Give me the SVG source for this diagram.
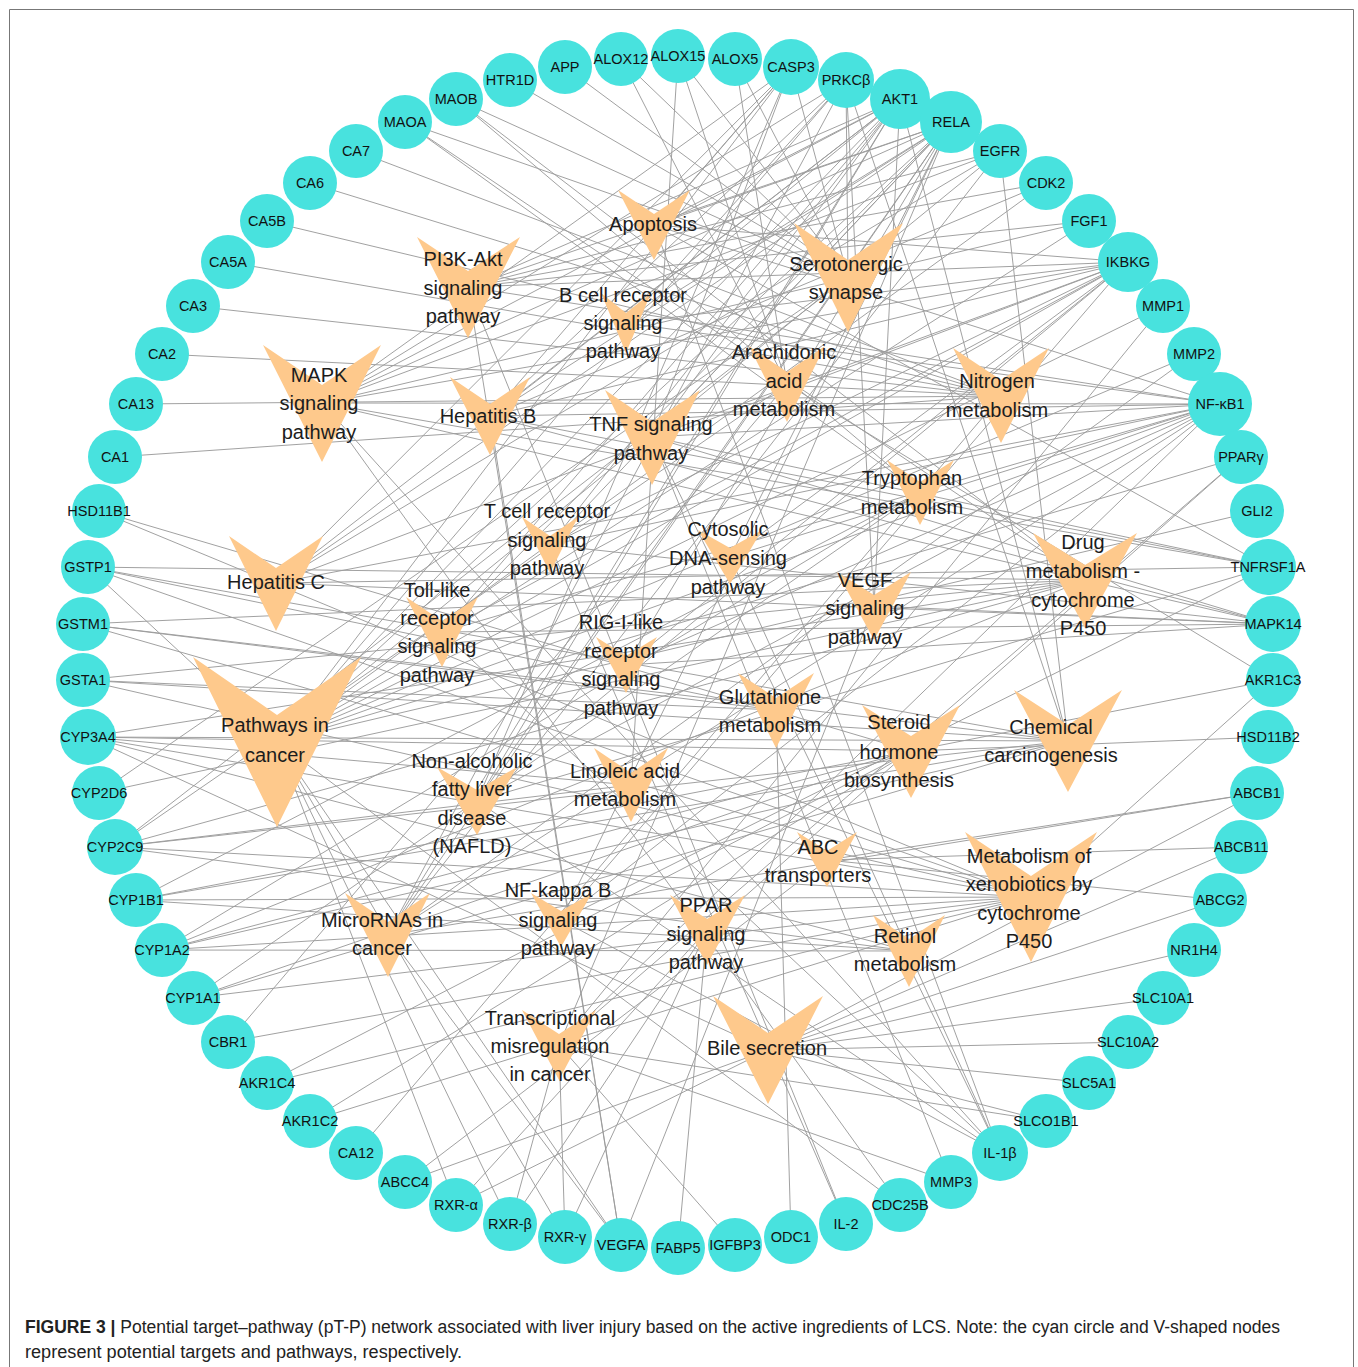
<svg xmlns="http://www.w3.org/2000/svg" width="1358" height="1367" viewBox="0 0 1358 1367">
<style>
.bg{fill:#fff}
.frame{fill:none;stroke:#777;stroke-width:1}
#edges line{stroke:#9c9c9c;stroke-width:0.95}
.t circle{fill:#48E2DE}
.t text{font-family:"Liberation Sans",Arial,sans-serif;font-size:14.5px;fill:#111;text-anchor:middle}
.p polygon{fill:#FEC98C}
.p text{font-family:"Liberation Sans",Arial,sans-serif;font-size:20px;fill:#1c1c1c;text-anchor:middle}
.cap{font-family:"Liberation Sans",Arial,sans-serif;font-size:18px;fill:#222}
</style>
<rect class="bg" x="0" y="0" width="1358" height="1367"/>
<path class="frame" d="M9.5,1367 V9.5 H1353.5 V1367"/>
<g id="edges">
<line x1="678" y1="56" x2="787" y2="384"/><line x1="678" y1="56" x2="631" y2="785"/><line x1="678" y1="56" x2="848" y2="277"/>
<line x1="735" y1="59" x2="787" y2="384"/><line x1="735" y1="59" x2="848" y2="277"/>
<line x1="621" y1="59" x2="787" y2="384"/><line x1="621" y1="59" x2="848" y2="277"/>
<line x1="791" y1="67" x2="654" y2="225"/><line x1="791" y1="67" x2="652" y2="437"/><line x1="791" y1="67" x2="490" y2="416"/><line x1="791" y1="67" x2="276" y2="583"/><line x1="791" y1="67" x2="477" y2="801"/><line x1="791" y1="67" x2="277" y2="742"/><line x1="791" y1="67" x2="848" y2="277"/><line x1="791" y1="67" x2="322" y2="403"/>
<line x1="846" y1="80" x2="322" y2="403"/><line x1="846" y1="80" x2="874" y2="606"/><line x1="846" y1="80" x2="626" y2="323"/><line x1="846" y1="80" x2="277" y2="742"/><line x1="846" y1="80" x2="388" y2="935"/><line x1="846" y1="80" x2="490" y2="416"/><line x1="846" y1="80" x2="848" y2="277"/><line x1="846" y1="80" x2="1068" y2="741"/>
<line x1="900" y1="99" x2="468" y2="287"/><line x1="900" y1="99" x2="322" y2="403"/><line x1="900" y1="99" x2="654" y2="225"/><line x1="900" y1="99" x2="652" y2="437"/><line x1="900" y1="99" x2="550" y2="545"/><line x1="900" y1="99" x2="626" y2="323"/><line x1="900" y1="99" x2="442" y2="632"/><line x1="900" y1="99" x2="874" y2="606"/><line x1="900" y1="99" x2="490" y2="416"/><line x1="900" y1="99" x2="276" y2="583"/><line x1="900" y1="99" x2="277" y2="742"/><line x1="900" y1="99" x2="388" y2="935"/><line x1="900" y1="99" x2="477" y2="801"/><line x1="900" y1="99" x2="1068" y2="741"/>
<line x1="951" y1="122" x2="654" y2="225"/><line x1="951" y1="122" x2="652" y2="437"/><line x1="951" y1="122" x2="442" y2="632"/><line x1="951" y1="122" x2="550" y2="545"/><line x1="951" y1="122" x2="626" y2="323"/><line x1="951" y1="122" x2="626" y2="665"/><line x1="951" y1="122" x2="730" y2="557"/><line x1="951" y1="122" x2="561" y2="920"/><line x1="951" y1="122" x2="322" y2="403"/><line x1="951" y1="122" x2="468" y2="287"/><line x1="951" y1="122" x2="490" y2="416"/><line x1="951" y1="122" x2="276" y2="583"/><line x1="951" y1="122" x2="277" y2="742"/><line x1="951" y1="122" x2="559" y2="1045"/><line x1="951" y1="122" x2="388" y2="935"/><line x1="951" y1="122" x2="477" y2="801"/>
<line x1="1000" y1="151" x2="468" y2="287"/><line x1="1000" y1="151" x2="322" y2="403"/><line x1="1000" y1="151" x2="277" y2="742"/><line x1="1000" y1="151" x2="388" y2="935"/><line x1="1000" y1="151" x2="276" y2="583"/><line x1="1000" y1="151" x2="1068" y2="741"/>
<line x1="1046" y1="183" x2="468" y2="287"/><line x1="1046" y1="183" x2="490" y2="416"/><line x1="1046" y1="183" x2="277" y2="742"/>
<line x1="1089" y1="221" x2="468" y2="287"/><line x1="1089" y1="221" x2="322" y2="403"/><line x1="1089" y1="221" x2="277" y2="742"/>
<line x1="1128" y1="262" x2="654" y2="225"/><line x1="1128" y1="262" x2="652" y2="437"/><line x1="1128" y1="262" x2="442" y2="632"/><line x1="1128" y1="262" x2="550" y2="545"/><line x1="1128" y1="262" x2="626" y2="323"/><line x1="1128" y1="262" x2="626" y2="665"/><line x1="1128" y1="262" x2="730" y2="557"/><line x1="1128" y1="262" x2="561" y2="920"/><line x1="1128" y1="262" x2="322" y2="403"/><line x1="1128" y1="262" x2="468" y2="287"/><line x1="1128" y1="262" x2="490" y2="416"/><line x1="1128" y1="262" x2="276" y2="583"/><line x1="1128" y1="262" x2="277" y2="742"/><line x1="1128" y1="262" x2="477" y2="801"/>
<line x1="1163" y1="306" x2="277" y2="742"/><line x1="1163" y1="306" x2="559" y2="1045"/>
<line x1="1194" y1="354" x2="277" y2="742"/><line x1="1194" y1="354" x2="388" y2="935"/>
<line x1="1220" y1="404" x2="654" y2="225"/><line x1="1220" y1="404" x2="652" y2="437"/><line x1="1220" y1="404" x2="442" y2="632"/><line x1="1220" y1="404" x2="550" y2="545"/><line x1="1220" y1="404" x2="626" y2="323"/><line x1="1220" y1="404" x2="626" y2="665"/><line x1="1220" y1="404" x2="730" y2="557"/><line x1="1220" y1="404" x2="561" y2="920"/><line x1="1220" y1="404" x2="322" y2="403"/><line x1="1220" y1="404" x2="468" y2="287"/><line x1="1220" y1="404" x2="490" y2="416"/><line x1="1220" y1="404" x2="276" y2="583"/><line x1="1220" y1="404" x2="277" y2="742"/><line x1="1220" y1="404" x2="559" y2="1045"/><line x1="1220" y1="404" x2="388" y2="935"/><line x1="1220" y1="404" x2="477" y2="801"/>
<line x1="1241" y1="457" x2="707" y2="930"/><line x1="1241" y1="457" x2="277" y2="742"/><line x1="1241" y1="457" x2="559" y2="1045"/>
<line x1="1257" y1="511" x2="277" y2="742"/>
<line x1="1268" y1="567" x2="654" y2="225"/><line x1="1268" y1="567" x2="652" y2="437"/><line x1="1268" y1="567" x2="322" y2="403"/><line x1="1268" y1="567" x2="561" y2="920"/><line x1="1268" y1="567" x2="490" y2="416"/><line x1="1268" y1="567" x2="276" y2="583"/><line x1="1268" y1="567" x2="477" y2="801"/>
<line x1="1273" y1="624" x2="322" y2="403"/><line x1="1273" y1="624" x2="652" y2="437"/><line x1="1273" y1="624" x2="442" y2="632"/><line x1="1273" y1="624" x2="550" y2="545"/><line x1="1273" y1="624" x2="626" y2="665"/><line x1="1273" y1="624" x2="874" y2="606"/><line x1="1273" y1="624" x2="490" y2="416"/><line x1="1273" y1="624" x2="276" y2="583"/>
<line x1="1273" y1="680" x2="911" y2="751"/><line x1="1273" y1="680" x2="1031" y2="897"/><line x1="1273" y1="680" x2="787" y2="384"/>
<line x1="1268" y1="737" x2="911" y2="751"/>
<line x1="1257" y1="793" x2="827" y2="860"/><line x1="1257" y1="793" x2="388" y2="935"/><line x1="1257" y1="793" x2="768" y2="1050"/>
<line x1="1241" y1="847" x2="827" y2="860"/><line x1="1241" y1="847" x2="768" y2="1050"/>
<line x1="1220" y1="900" x2="827" y2="860"/><line x1="1220" y1="900" x2="768" y2="1050"/>
<line x1="1194" y1="950" x2="768" y2="1050"/>
<line x1="1163" y1="998" x2="768" y2="1050"/>
<line x1="1128" y1="1042" x2="768" y2="1050"/>
<line x1="1089" y1="1083" x2="768" y2="1050"/>
<line x1="1046" y1="1121" x2="768" y2="1050"/><line x1="1046" y1="1121" x2="559" y2="1045"/>
<line x1="1000" y1="1153" x2="322" y2="403"/><line x1="1000" y1="1153" x2="652" y2="437"/><line x1="1000" y1="1153" x2="442" y2="632"/><line x1="1000" y1="1153" x2="561" y2="920"/><line x1="1000" y1="1153" x2="730" y2="557"/><line x1="1000" y1="1153" x2="654" y2="225"/><line x1="1000" y1="1153" x2="477" y2="801"/>
<line x1="951" y1="1182" x2="652" y2="437"/><line x1="951" y1="1182" x2="559" y2="1045"/>
<line x1="900" y1="1205" x2="322" y2="403"/><line x1="900" y1="1205" x2="277" y2="742"/>
<line x1="846" y1="1224" x2="550" y2="545"/><line x1="846" y1="1224" x2="468" y2="287"/>
<line x1="791" y1="1237" x2="776" y2="710"/>
<line x1="735" y1="1245" x2="559" y2="1045"/>
<line x1="678" y1="1248" x2="707" y2="930"/>
<line x1="621" y1="1245" x2="468" y2="287"/><line x1="621" y1="1245" x2="874" y2="606"/><line x1="621" y1="1245" x2="277" y2="742"/><line x1="621" y1="1245" x2="388" y2="935"/><line x1="621" y1="1245" x2="490" y2="416"/>
<line x1="565" y1="1237" x2="707" y2="930"/><line x1="565" y1="1237" x2="277" y2="742"/><line x1="565" y1="1237" x2="559" y2="1045"/>
<line x1="510" y1="1224" x2="707" y2="930"/><line x1="510" y1="1224" x2="277" y2="742"/><line x1="510" y1="1224" x2="559" y2="1045"/>
<line x1="456" y1="1205" x2="707" y2="930"/><line x1="456" y1="1205" x2="277" y2="742"/><line x1="456" y1="1205" x2="768" y2="1050"/>
<line x1="405" y1="1182" x2="827" y2="860"/><line x1="405" y1="1182" x2="768" y2="1050"/>
<line x1="356" y1="1153" x2="1001" y2="396"/>
<line x1="310" y1="1121" x2="911" y2="751"/><line x1="310" y1="1121" x2="1031" y2="897"/>
<line x1="267" y1="1083" x2="911" y2="751"/><line x1="267" y1="1083" x2="1031" y2="897"/>
<line x1="228" y1="1042" x2="787" y2="384"/><line x1="228" y1="1042" x2="1031" y2="897"/>
<line x1="193" y1="998" x2="920" y2="492"/><line x1="193" y1="998" x2="911" y2="751"/><line x1="193" y1="998" x2="1031" y2="897"/><line x1="193" y1="998" x2="1068" y2="741"/>
<line x1="162" y1="950" x2="920" y2="492"/><line x1="162" y1="950" x2="911" y2="751"/><line x1="162" y1="950" x2="1085" y2="580"/><line x1="162" y1="950" x2="1031" y2="897"/><line x1="162" y1="950" x2="1068" y2="741"/><line x1="162" y1="950" x2="909" y2="951"/>
<line x1="136" y1="900" x2="920" y2="492"/><line x1="136" y1="900" x2="911" y2="751"/><line x1="136" y1="900" x2="1031" y2="897"/><line x1="136" y1="900" x2="1068" y2="741"/><line x1="136" y1="900" x2="909" y2="951"/>
<line x1="115" y1="847" x2="787" y2="384"/><line x1="115" y1="847" x2="631" y2="785"/><line x1="115" y1="847" x2="1085" y2="580"/><line x1="115" y1="847" x2="1031" y2="897"/><line x1="115" y1="847" x2="909" y2="951"/><line x1="115" y1="847" x2="848" y2="277"/><line x1="115" y1="847" x2="1068" y2="741"/>
<line x1="99" y1="793" x2="1085" y2="580"/><line x1="99" y1="793" x2="848" y2="277"/>
<line x1="88" y1="737" x2="631" y2="785"/><line x1="88" y1="737" x2="911" y2="751"/><line x1="88" y1="737" x2="1085" y2="580"/><line x1="88" y1="737" x2="1031" y2="897"/><line x1="88" y1="737" x2="909" y2="951"/><line x1="88" y1="737" x2="1068" y2="741"/><line x1="88" y1="737" x2="768" y2="1050"/>
<line x1="83" y1="680" x2="776" y2="710"/><line x1="83" y1="680" x2="1085" y2="580"/><line x1="83" y1="680" x2="1031" y2="897"/><line x1="83" y1="680" x2="1068" y2="741"/>
<line x1="83" y1="624" x2="776" y2="710"/><line x1="83" y1="624" x2="1085" y2="580"/><line x1="83" y1="624" x2="1031" y2="897"/><line x1="83" y1="624" x2="1068" y2="741"/>
<line x1="88" y1="567" x2="776" y2="710"/><line x1="88" y1="567" x2="1085" y2="580"/><line x1="88" y1="567" x2="1031" y2="897"/><line x1="88" y1="567" x2="1068" y2="741"/><line x1="88" y1="567" x2="277" y2="742"/>
<line x1="99" y1="511" x2="911" y2="751"/><line x1="99" y1="511" x2="1031" y2="897"/>
<line x1="115" y1="457" x2="1001" y2="396"/><line x1="136" y1="404" x2="1001" y2="396"/><line x1="162" y1="354" x2="1001" y2="396"/><line x1="193" y1="306" x2="1001" y2="396"/><line x1="228" y1="262" x2="1001" y2="396"/><line x1="267" y1="221" x2="1001" y2="396"/><line x1="310" y1="183" x2="1001" y2="396"/><line x1="356" y1="151" x2="1001" y2="396"/>
<line x1="405" y1="122" x2="920" y2="492"/><line x1="405" y1="122" x2="1085" y2="580"/><line x1="405" y1="122" x2="848" y2="277"/>
<line x1="456" y1="99" x2="920" y2="492"/><line x1="456" y1="99" x2="1085" y2="580"/><line x1="456" y1="99" x2="848" y2="277"/>
<line x1="510" y1="80" x2="848" y2="277"/>
<line x1="565" y1="67" x2="848" y2="277"/>
</g>
<g id="p-apoptosis" class="p"><polygon points="618,190 654,214 690,190 654,260"/><text x="653" y="231">Apoptosis</text></g>
<g id="p-pi3k-akt" class="p"><polygon points="417,237 468,271 520,237 468,338"/><text x="463" y="266">PI3K-Akt</text><text x="463" y="295">signaling</text><text x="463" y="323">pathway</text></g>
<g id="p-bcell" class="p"><polygon points="601,293 626,313 651,293 626,353"/><text x="623" y="302">B cell receptor</text><text x="623" y="330">signaling</text><text x="623" y="358">pathway</text></g>
<g id="p-mapk" class="p"><polygon points="263,345 322,385 381,345 322,462"/><text x="319" y="382">MAPK</text><text x="319" y="410">signaling</text><text x="319" y="439">pathway</text></g>
<g id="p-hepb" class="p"><polygon points="450,377 490,404 530,377 490,455"/><text x="488" y="423">Hepatitis B</text></g>
<g id="p-tnf" class="p"><polygon points="605,390 652,422 700,390 652,485"/><text x="651" y="431">TNF signaling</text><text x="651" y="460">pathway</text></g>
<g id="p-serotonergic" class="p"><polygon points="794,223 848,260 903,223 848,332"/><text x="846" y="271">Serotonergic</text><text x="846" y="299">synapse</text></g>
<g id="p-arachidonic" class="p"><polygon points="749,346 787,372 825,346 787,422"/><text x="784" y="359">Arachidonic</text><text x="784" y="388">acid</text><text x="784" y="416">metabolism</text></g>
<g id="p-nitrogen" class="p"><polygon points="953,348 1001,380 1049,348 1001,443"/><text x="997" y="388">Nitrogen</text><text x="997" y="417">metabolism</text></g>
<g id="p-tryptophan" class="p"><polygon points="887,460 920,482 954,460 920,525"/><text x="912" y="485">Tryptophan</text><text x="912" y="514">metabolism</text></g>
<g id="p-cytosolic" class="p"><polygon points="698,530 730,548 762,530 730,584"/><text x="728" y="536">Cytosolic</text><text x="728" y="565">DNA-sensing</text><text x="728" y="594">pathway</text></g>
<g id="p-vegf" class="p"><polygon points="837,572 874,595 911,572 874,640"/><text x="865" y="587">VEGF</text><text x="865" y="615">signaling</text><text x="865" y="644">pathway</text></g>
<g id="p-drug" class="p"><polygon points="1033,533 1085,565 1137,533 1085,628"/><text x="1083" y="549">Drug</text><text x="1083" y="578">metabolism -</text><text x="1083" y="607">cytochrome</text><text x="1083" y="635">P450</text></g>
<g id="p-tcell" class="p"><polygon points="522,517 550,536 578,517 550,573"/><text x="547" y="518">T cell receptor</text><text x="547" y="547">signaling</text><text x="547" y="575">pathway</text></g>
<g id="p-hepc" class="p"><polygon points="229,536 276,568 323,536 276,631"/><text x="276" y="589">Hepatitis C</text></g>
<g id="p-toll" class="p"><polygon points="406,597 442,621 478,597 442,667"/><text x="437" y="597">Toll-like</text><text x="437" y="625">receptor</text><text x="437" y="653">signaling</text><text x="437" y="682">pathway</text></g>
<g id="p-rig" class="p"><polygon points="596,637 626,656 657,637 626,693"/><text x="621" y="629">RIG-I-like</text><text x="621" y="658">receptor</text><text x="621" y="686">signaling</text><text x="621" y="715">pathway</text></g>
<g id="p-cancer" class="p"><polygon points="193,657 277,715 361,657 277,827"/><text x="275" y="732">Pathways in</text><text x="275" y="762">cancer</text></g>
<g id="p-glutathione" class="p"><polygon points="738,673 776,698 814,673 776,748"/><text x="770" y="704">Glutathione</text><text x="770" y="732">metabolism</text></g>
<g id="p-steroid" class="p"><polygon points="862,705 911,736 960,705 911,798"/><text x="899" y="729">Steroid</text><text x="899" y="759">hormone</text><text x="899" y="787">biosynthesis</text></g>
<g id="p-chemical" class="p"><polygon points="1014,690 1068,725 1122,690 1068,792"/><text x="1051" y="734">Chemical</text><text x="1051" y="762">carcinogenesis</text></g>
<g id="p-nafld" class="p"><polygon points="437,767 477,790 517,767 477,835"/><text x="472" y="768">Non-alcoholic</text><text x="472" y="796">fatty liver</text><text x="472" y="825">disease</text><text x="472" y="853">(NAFLD)</text></g>
<g id="p-linoleic" class="p"><polygon points="594,748 631,773 668,748 631,822"/><text x="625" y="778">Linoleic acid</text><text x="625" y="806">metabolism</text></g>
<g id="p-abc" class="p"><polygon points="797,832 827,851 857,832 827,887"/><text x="818" y="854">ABC</text><text x="818" y="882">transporters</text></g>
<g id="p-xenobiotics" class="p"><polygon points="965,832 1031,876 1097,832 1031,962"/><text x="1029" y="863">Metabolism of</text><text x="1029" y="891">xenobiotics by</text><text x="1029" y="920">cytochrome</text><text x="1029" y="948">P450</text></g>
<g id="p-micrornas" class="p"><polygon points="345,893 388,922 430,893 388,977"/><text x="382" y="927">MicroRNAs in</text><text x="382" y="955">cancer</text></g>
<g id="p-nfkb" class="p"><polygon points="531,893 561,911 592,893 561,947"/><text x="558" y="897">NF-kappa B</text><text x="558" y="927">signaling</text><text x="558" y="955">pathway</text></g>
<g id="p-ppar" class="p"><polygon points="670,895 707,919 745,895 707,965"/><text x="706" y="912">PPAR</text><text x="706" y="941">signaling</text><text x="706" y="969">pathway</text></g>
<g id="p-retinol" class="p"><polygon points="873,915 909,939 945,915 909,987"/><text x="905" y="943">Retinol</text><text x="905" y="971">metabolism</text></g>
<g id="p-transcriptional" class="p"><polygon points="522,1010 559,1034 596,1010 559,1080"/><text x="550" y="1025">Transcriptional</text><text x="550" y="1053">misregulation</text><text x="550" y="1081">in cancer</text></g>
<g id="p-bile" class="p"><polygon points="713,996 768,1033 823,996 768,1104"/><text x="767" y="1055">Bile secretion</text></g>
<g id="n-ALOX15" class="t"><circle cx="678" cy="56" r="27"/><text x="678" y="61">ALOX15</text></g>
<g id="n-ALOX5" class="t"><circle cx="735" cy="59" r="27"/><text x="735" y="64">ALOX5</text></g>
<g id="n-CASP3" class="t"><circle cx="791" cy="67" r="28"/><text x="791" y="72">CASP3</text></g>
<g id="n-PRKCB" class="t"><circle cx="846" cy="80" r="28"/><text x="846" y="85">PRKCβ</text></g>
<g id="n-AKT1" class="t"><circle cx="900" cy="99" r="30"/><text x="900" y="104">AKT1</text></g>
<g id="n-RELA" class="t"><circle cx="951" cy="122" r="31"/><text x="951" y="127">RELA</text></g>
<g id="n-EGFR" class="t"><circle cx="1000" cy="151" r="27"/><text x="1000" y="156">EGFR</text></g>
<g id="n-CDK2" class="t"><circle cx="1046" cy="183" r="27"/><text x="1046" y="188">CDK2</text></g>
<g id="n-FGF1" class="t"><circle cx="1089" cy="221" r="27"/><text x="1089" y="226">FGF1</text></g>
<g id="n-IKBKG" class="t"><circle cx="1128" cy="262" r="30"/><text x="1128" y="267">IKBKG</text></g>
<g id="n-MMP1" class="t"><circle cx="1163" cy="306" r="27"/><text x="1163" y="311">MMP1</text></g>
<g id="n-MMP2" class="t"><circle cx="1194" cy="354" r="27"/><text x="1194" y="359">MMP2</text></g>
<g id="n-NFKB1" class="t"><circle cx="1220" cy="404" r="32"/><text x="1220" y="409">NF-κB1</text></g>
<g id="n-PPARG" class="t"><circle cx="1241" cy="457" r="27"/><text x="1241" y="462">PPARγ</text></g>
<g id="n-GLI2" class="t"><circle cx="1257" cy="511" r="27"/><text x="1257" y="516">GLI2</text></g>
<g id="n-TNFRSF1A" class="t"><circle cx="1268" cy="567" r="28"/><text x="1268" y="572">TNFRSF1A</text></g>
<g id="n-MAPK14" class="t"><circle cx="1273" cy="624" r="28"/><text x="1273" y="629">MAPK14</text></g>
<g id="n-AKR1C3" class="t"><circle cx="1273" cy="680" r="27"/><text x="1273" y="685">AKR1C3</text></g>
<g id="n-HSD11B2" class="t"><circle cx="1268" cy="737" r="27"/><text x="1268" y="742">HSD11B2</text></g>
<g id="n-ABCB1" class="t"><circle cx="1257" cy="793" r="27"/><text x="1257" y="798">ABCB1</text></g>
<g id="n-ABCB11" class="t"><circle cx="1241" cy="847" r="27"/><text x="1241" y="852">ABCB11</text></g>
<g id="n-ABCG2" class="t"><circle cx="1220" cy="900" r="27"/><text x="1220" y="905">ABCG2</text></g>
<g id="n-NR1H4" class="t"><circle cx="1194" cy="950" r="27"/><text x="1194" y="955">NR1H4</text></g>
<g id="n-SLC10A1" class="t"><circle cx="1163" cy="998" r="27"/><text x="1163" y="1003">SLC10A1</text></g>
<g id="n-SLC10A2" class="t"><circle cx="1128" cy="1042" r="27"/><text x="1128" y="1047">SLC10A2</text></g>
<g id="n-SLC5A1" class="t"><circle cx="1089" cy="1083" r="27"/><text x="1089" y="1088">SLC5A1</text></g>
<g id="n-SLCO1B1" class="t"><circle cx="1046" cy="1121" r="27"/><text x="1046" y="1126">SLCO1B1</text></g>
<g id="n-IL1B" class="t"><circle cx="1000" cy="1153" r="28"/><text x="1000" y="1158">IL-1β</text></g>
<g id="n-MMP3" class="t"><circle cx="951" cy="1182" r="27"/><text x="951" y="1187">MMP3</text></g>
<g id="n-CDC25B" class="t"><circle cx="900" cy="1205" r="27"/><text x="900" y="1210">CDC25B</text></g>
<g id="n-IL2" class="t"><circle cx="846" cy="1224" r="27"/><text x="846" y="1229">IL-2</text></g>
<g id="n-ODC1" class="t"><circle cx="791" cy="1237" r="27"/><text x="791" y="1242">ODC1</text></g>
<g id="n-IGFBP3" class="t"><circle cx="735" cy="1245" r="27"/><text x="735" y="1250">IGFBP3</text></g>
<g id="n-FABP5" class="t"><circle cx="678" cy="1248" r="27"/><text x="678" y="1253">FABP5</text></g>
<g id="n-VEGFA" class="t"><circle cx="621" cy="1245" r="27"/><text x="621" y="1250">VEGFA</text></g>
<g id="n-RXRG" class="t"><circle cx="565" cy="1237" r="27"/><text x="565" y="1242">RXR-γ</text></g>
<g id="n-RXRB" class="t"><circle cx="510" cy="1224" r="27"/><text x="510" y="1229">RXR-β</text></g>
<g id="n-RXRA" class="t"><circle cx="456" cy="1205" r="27"/><text x="456" y="1210">RXR-α</text></g>
<g id="n-ABCC4" class="t"><circle cx="405" cy="1182" r="27"/><text x="405" y="1187">ABCC4</text></g>
<g id="n-CA12" class="t"><circle cx="356" cy="1153" r="27"/><text x="356" y="1158">CA12</text></g>
<g id="n-AKR1C2" class="t"><circle cx="310" cy="1121" r="27"/><text x="310" y="1126">AKR1C2</text></g>
<g id="n-AKR1C4" class="t"><circle cx="267" cy="1083" r="27"/><text x="267" y="1088">AKR1C4</text></g>
<g id="n-CBR1" class="t"><circle cx="228" cy="1042" r="27"/><text x="228" y="1047">CBR1</text></g>
<g id="n-CYP1A1" class="t"><circle cx="193" cy="998" r="27"/><text x="193" y="1003">CYP1A1</text></g>
<g id="n-CYP1A2" class="t"><circle cx="162" cy="950" r="27"/><text x="162" y="955">CYP1A2</text></g>
<g id="n-CYP1B1" class="t"><circle cx="136" cy="900" r="27"/><text x="136" y="905">CYP1B1</text></g>
<g id="n-CYP2C9" class="t"><circle cx="115" cy="847" r="28"/><text x="115" y="852">CYP2C9</text></g>
<g id="n-CYP2D6" class="t"><circle cx="99" cy="793" r="27"/><text x="99" y="798">CYP2D6</text></g>
<g id="n-CYP3A4" class="t"><circle cx="88" cy="737" r="28"/><text x="88" y="742">CYP3A4</text></g>
<g id="n-GSTA1" class="t"><circle cx="83" cy="680" r="27"/><text x="83" y="685">GSTA1</text></g>
<g id="n-GSTM1" class="t"><circle cx="83" cy="624" r="27"/><text x="83" y="629">GSTM1</text></g>
<g id="n-GSTP1" class="t"><circle cx="88" cy="567" r="27"/><text x="88" y="572">GSTP1</text></g>
<g id="n-HSD11B1" class="t"><circle cx="99" cy="511" r="27"/><text x="99" y="516">HSD11B1</text></g>
<g id="n-CA1" class="t"><circle cx="115" cy="457" r="27"/><text x="115" y="462">CA1</text></g>
<g id="n-CA13" class="t"><circle cx="136" cy="404" r="27"/><text x="136" y="409">CA13</text></g>
<g id="n-CA2" class="t"><circle cx="162" cy="354" r="27"/><text x="162" y="359">CA2</text></g>
<g id="n-CA3" class="t"><circle cx="193" cy="306" r="27"/><text x="193" y="311">CA3</text></g>
<g id="n-CA5A" class="t"><circle cx="228" cy="262" r="27"/><text x="228" y="267">CA5A</text></g>
<g id="n-CA5B" class="t"><circle cx="267" cy="221" r="27"/><text x="267" y="226">CA5B</text></g>
<g id="n-CA6" class="t"><circle cx="310" cy="183" r="27"/><text x="310" y="188">CA6</text></g>
<g id="n-CA7" class="t"><circle cx="356" cy="151" r="27"/><text x="356" y="156">CA7</text></g>
<g id="n-MAOA" class="t"><circle cx="405" cy="122" r="27"/><text x="405" y="127">MAOA</text></g>
<g id="n-MAOB" class="t"><circle cx="456" cy="99" r="27"/><text x="456" y="104">MAOB</text></g>
<g id="n-HTR1D" class="t"><circle cx="510" cy="80" r="27"/><text x="510" y="85">HTR1D</text></g>
<g id="n-APP" class="t"><circle cx="565" cy="67" r="27"/><text x="565" y="72">APP</text></g>
<g id="n-ALOX12" class="t"><circle cx="621" cy="59" r="27"/><text x="621" y="64">ALOX12</text></g>
<text class="cap" x="25" y="1333" textLength="1255" lengthAdjust="spacingAndGlyphs"><tspan font-weight="bold">FIGURE 3 |</tspan> Potential target–pathway (pT-P) network associated with liver injury based on the active ingredients of LCS. Note: the cyan circle and V-shaped nodes</text>
<text class="cap" x="25" y="1358" textLength="437" lengthAdjust="spacingAndGlyphs">represent potential targets and pathways, respectively.</text>
</svg>
